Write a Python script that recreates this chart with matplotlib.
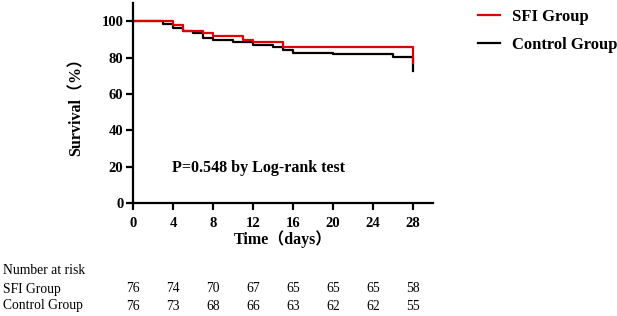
import matplotlib
matplotlib.use("Agg")
import matplotlib.pyplot as plt
import matplotlib.transforms as mtransforms

# Kaplan-Meier steps (days, survival %)
sfi_t = [0, 4, 5, 7, 8, 11, 12, 15, 28]
sfi_s = [100, 97.8, 94.7, 93.5, 92.0, 89.5, 88.3, 86.0, 77.0]
ctrl_t = [0, 3, 4, 5, 6, 7, 8, 10, 12, 14, 15, 16, 20, 26, 28]
ctrl_s = [100, 98.7, 96.3, 94.7, 93.6, 91.0, 89.6, 88.3, 87.0, 85.9, 84.4, 82.6, 81.7, 80.4, 72.7]

x_ticks = [0, 4, 8, 12, 16, 20, 24, 28]
y_ticks = [0, 20, 40, 60, 80, 100]

risk_sfi = [76, 74, 70, 67, 65, 65, 65, 58]
risk_ctrl = [76, 73, 68, 66, 63, 62, 62, 55]

serif = ["Liberation Serif", "Noto Sans CJK SC"]
plt.rcParams["font.family"] = serif

W, H = 617, 316
fig = plt.figure(figsize=(W / 100, H / 100), dpi=100)
ax = fig.add_axes([133 / W, 1 - 203 / H, 300 / W, 200 / H])

ax.step(ctrl_t, ctrl_s, where="post", color="black", lw=1.6, label="Control Group")
ax.step(sfi_t, sfi_s, where="post", color="#e00000", lw=1.6, label="SFI Group")

ax.set_xlim(0, 30)
ax.set_ylim(0, 110)
ax.set_xticks(x_ticks)
ax.set_yticks(y_ticks)
for s in ["top", "right"]:
    ax.spines[s].set_visible(False)
for s in ["left", "bottom"]:
    ax.spines[s].set_linewidth(1.6)
ax.tick_params(direction="out", length=5, width=1.6, labelsize=10.5, pad=2)
ax.tick_params(axis="x", pad=5)
for lab in ax.get_xticklabels() + ax.get_yticklabels():
    lab.set_fontweight("bold")

ax.set_ylabel("Survival（%）", fontsize=11.5, fontweight="bold")
ax.set_xlabel("Time（days）", fontsize=11.5, fontweight="bold")
ax.yaxis.set_label_coords(-0.16, 0.5)
ax.xaxis.set_label_coords(0.5, -0.135)

ax.text(3.9, 19.5, "P=0.548 by Log-rank test", fontsize=11.5, fontweight="bold",
        va="center", ha="left")

h, l = ax.get_legend_handles_labels()
fig.legend(h[::-1], l[::-1], loc="upper left", bbox_to_anchor=(478 / W, 1 - 9 / H),
           frameon=False, borderpad=0, borderaxespad=0, handlelength=1.3,
           handletextpad=0.75, labelspacing=0.7,
           prop={"family": serif, "weight": "bold", "size": 12})

# number at risk table, columns under the x ticks
fs = 9.8
fig.text(3 / W, 1 - 271 / H, "Number at risk", fontsize=fs, va="center")
fig.text(3 / W, 1 - 289 / H, "SFI Group", fontsize=fs, va="center")
fig.text(3 / W, 1 - 306 / H, "Control Group", fontsize=fs, va="center")
trans = mtransforms.blended_transform_factory(ax.transData, fig.transFigure)
for t, a, b in zip(x_ticks, risk_sfi, risk_ctrl):
    fig.text(t, 1 - 289 / H, str(a), fontsize=fs, va="center", ha="center", transform=trans)
    fig.text(t, 1 - 306 / H, str(b), fontsize=fs, va="center", ha="center", transform=trans)

fig.savefig("out.png", dpi=100)
